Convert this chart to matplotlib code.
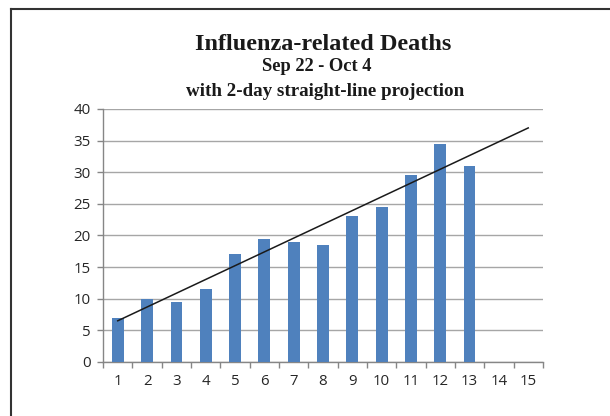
import matplotlib.pyplot as plt
import numpy as np

days = np.arange(1, 16)
deaths = [7, 10, 9.5, 11.5, 17, 19.5, 19, 18.5, 23, 24.5, 29.5, 34.5, 31]
forecast_days = 2

fig = plt.figure(figsize=(6.1, 4.16), dpi=100)
ax = fig.add_axes([0.169, 0.130, 0.721, 0.608])

x = days[:len(deaths)]
ax.bar(x, deaths, width=0.4, color='#4F81BD', zorder=3)

# Excel-style linear trendline with 2-period forward forecast
slope, intercept = np.polyfit(x, deaths, 1)
tx = np.array([x[0], x[-1] + forecast_days])
ax.plot(tx, slope * tx + intercept, color='#1a1a1a', linewidth=1.1, zorder=4)

ax.set_xlim(0.5, 15.5)
ax.set_ylim(0, 40)
ax.set_yticks(range(0, 45, 5))
ax.set_xticks(days)
ax.set_xticks(np.arange(0.5, 16, 1), minor=True)
ax.tick_params(axis='x', which='major', length=0, pad=9, labelsize=10.8, labelcolor='#262626')
ax.tick_params(axis='x', which='minor', length=4, color='#868686', width=1)
ax.tick_params(axis='y', length=4, color='#868686', width=1, pad=5, labelsize=10.8, labelcolor='#262626')
for lbl in ax.get_xticklabels() + ax.get_yticklabels():
    lbl.set_family('Open Sans')

ax.grid(axis='y', color='#A6A6A6', linewidth=1, zorder=0)
for s in ['top', 'right']:
    ax.spines[s].set_visible(False)
for s in ['left', 'bottom']:
    ax.spines[s].set_color('#868686')
    ax.spines[s].set_linewidth(1)

fig.text(0.530, 0.892, 'Influenza-related Deaths', ha='center', va='center',
         family='Liberation Serif', weight='bold', fontsize=17.5, color='#1a1a1a')
fig.text(0.520, 0.839, 'Sep 22 - Oct 4', ha='center', va='center',
         family='Liberation Serif', weight='bold', fontsize=13.3, color='#1a1a1a')
fig.text(0.533, 0.779, 'with 2-day straight-line projection', ha='center', va='center',
         family='Liberation Serif', weight='bold', fontsize=13.7, color='#1a1a1a')

# chart border (left and top edges visible)
fig.add_artist(plt.Line2D([0.018, 0.018], [0, 0.978], color='#333333', linewidth=1.5))
fig.add_artist(plt.Line2D([0.018, 1], [0.978, 0.978], color='#333333', linewidth=1.5))

fig.savefig('out.png', dpi=100)
